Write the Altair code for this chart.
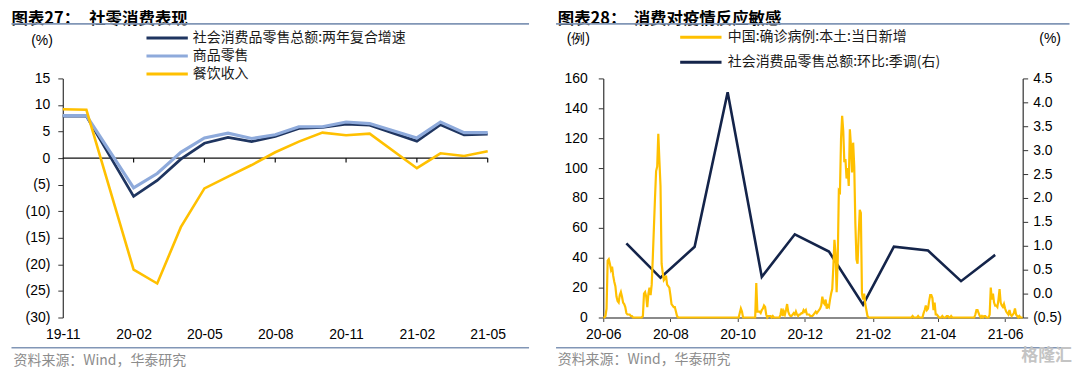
import altair as alt
import pandas as pd

# ---------------- left panel data ----------------
month_axis = ["19-11", "19-12", "20-01", "20-02", "20-03", "20-04", "20-05", "20-06",
              "20-07", "20-08", "20-09", "20-10", "20-11", "20-12", "21-01", "21-02",
              "21-03", "21-04", "21-05"]
left_ticks = ["19-11", "20-02", "20-05", "20-08", "20-11", "21-02", "21-05"]
data_months = ["19-11", "19-12", "20-02", "20-03", "20-04", "20-05", "20-06", "20-07",
               "20-08", "20-09", "20-10", "20-11", "20-12", "21-02", "21-03", "21-04", "21-05"]
retail_total = [7.9, 7.9, -7.2, -4.2, -0.2, 2.8, 3.9, 3.1, 4.1, 5.6, 5.8, 6.4, 6.2, 3.2, 6.3, 4.4, 4.5]
retail_goods = [8.0, 8.0, -5.6, -2.9, 1.1, 3.8, 4.7, 3.7, 4.4, 5.9, 5.9, 6.8, 6.5, 3.8, 6.8, 4.8, 4.8]
catering = [9.2, 9.1, -21.0, -23.6, -13.0, -5.7, -3.5, -1.3, 1.1, 3.1, 4.8, 4.3, 4.6, -1.9, 0.9, 0.4, 1.3]
left_yticks = [-30, -25, -20, -15, -10, -5, 0, 5, 10, 15]

# ---------------- right panel data ----------------
case_start = "2020-06-09"
cases_2020_06 = [0, 0, 1, 6, 38, 39, 36, 32, 34, 28, 24, 21, 14, 11, 10, 15, 17, 14, 10, 9, 7, 3]
cases_2020_07 = [2, 2, 2, 1, 1, 0, 0, 0, 0, 0, 0, 0, 0, 0,
                 1, 16, 17, 14, 7, 16, 20, 15, 22, 40, 60, 80, 98, 101, 123, 105, 88]
cases_2020_08 = [36, 30, 25, 26, 28, 22, 21, 20, 15, 9, 8, 7, 7, 4, 1, 0,
                 0, 0, 0, 0, 0, 0, 0, 0, 0, 0, 0, 0, 0, 0, 0]
cases_2020_09 = [0, 0, 0, 0, 0, 0, 0, 0, 0, 0, 0, 0, 0, 0, 0,
                 0, 0, 0, 0, 0, 0, 0, 0, 0, 0, 0, 0, 0, 0, 0]
cases_2020_10 = [0, 0, 0, 0, 0, 0, 0, 0, 0, 0, 3, 6, 4, 0, 0, 0,
                 0, 0, 0, 0, 0, 0, 0, 0, 0, 23, 4, 4, 4, 3, 5]
cases_2020_11 = [6, 8, 7, 2, 0, 1, 1, 1, 0, 1, 0, 0, 0, 0, 0,
                 0, 2, 6, 1, 4, 2, 5, 9, 4, 2, 1, 1, 2, 3, 2]
cases_2020_12 = [4, 2, 1, 2, 2, 3, 3, 5, 4, 5, 2, 2, 2, 1, 1, 1,
                 2, 3, 4, 3, 4, 5, 6, 8, 14, 10, 9, 12, 6, 8, 7]
cases_2021_01 = [12, 16, 19, 34, 52, 43, 17, 39, 85, 84, 120, 135, 125, 104, 106, 93,
                 100, 88, 126, 115, 97, 117, 101, 63, 39, 36, 55, 72, 70, 16, 12]
cases_2021_02 = [16, 9, 5, 1, 0, 0, 0, 0, 0, 0, 0, 0, 0, 0,
                 0, 0, 0, 0, 0, 0, 0, 0, 0, 0, 0, 0, 0, 0]
cases_2021_03 = [0, 0, 0, 0, 0, 0, 0, 0, 0, 0, 0, 0, 0, 0, 0, 0,
                 1, 0, 0, 0, 0, 1, 0, 0, 0, 0, 3, 5, 8, 5, 6]
cases_2021_04 = [11, 15, 15, 13, 5, 10, 2, 2, 1, 0, 0, 0, 1, 0, 0,
                 0, 1, 1, 0, 0, 1, 0, 0, 0, 0, 0, 0, 0, 0, 0]
cases_2021_05 = [0, 0, 0, 0, 0, 0, 0, 0, 0, 0, 0, 0, 2, 5, 5, 3,
                 1, 0, 1, 0, 1, 1, 0, 0, 0, 2, 20, 12, 16, 10, 8]
cases_2021_06 = [8, 7, 12, 19, 10, 8, 7, 9, 6, 4, 3, 2, 5, 2, 1, 2, 3, 6, 2, 1, 0, 1, 0, 0, 0]

sales_dates = ["2020-06-30", "2020-07-31", "2020-08-31", "2020-09-30", "2020-10-31", "2020-11-30",
               "2020-12-31", "2021-01-31", "2021-02-28", "2021-03-31", "2021-04-30", "2021-05-31"]
sales_mom = [1.05, 0.33, 0.98, 4.21, 0.35, 1.24, 0.88, -0.23, 0.98, 0.90, 0.26, 0.81]
right_ly_ticks = [0, 20, 40, 60, 80, 100, 120, 140, 160]
right_ry_ticks = [-0.5, 0.0, 0.5, 1.0, 1.5, 2.0, 2.5, 3.0, 3.5, 4.0, 4.5]
right_tick_dates = [(2020, 6, 9), (2020, 8, 9), (2020, 10, 9), (2020, 12, 9),
                    (2021, 2, 9), (2021, 4, 9), (2021, 6, 9)]

# ---------------- styles ----------------
LAT = "Liberation Sans"
CJK = "Noto Sans CJK SC"
NAVY_L = "#1f3560"
LIGHT = "#8eaadb"
GOLD = "#ffc000"
NAVY_R = "#14244a"
RULE = "#8196b6"
W1, W2, H = 426.5, 421, 240
TITLE_Y = -60

blank = alt.Data(values=[{"k": 0}])


def txt(s, x, y, size=14, font=CJK, color="#1a1a1a", weight="normal", align="left"):
    return alt.Chart(blank).mark_text(
        text=s, align=align, baseline="middle", font=font, fontSize=size,
        fontWeight=weight, color=color
    ).encode(x=alt.value(x), y=alt.value(y))


def hline(x1, x2, y, color, width):
    return alt.Chart(blank).mark_rule(color=color, strokeWidth=width).encode(
        x=alt.value(x1), x2=alt.value(x2), y=alt.value(y))


# ---------------- left panel ----------------
df_left = pd.DataFrame({"m": data_months, "total": retail_total,
                        "goods": retail_goods, "cater": catering})
df_zero = pd.DataFrame({"m": [month_axis[0], month_axis[-1]], "v": [0, 0]})
df_lt = pd.DataFrame({"m": left_ticks[1:], "v": [0] * (len(left_ticks) - 1)})

xL = alt.X("m:O", scale=alt.Scale(type="point", domain=month_axis, padding=0),
           axis=alt.Axis(values=left_ticks, labelAngle=0, domain=False, ticks=False, tickSize=0,
                         labelPadding=10, labelFont=LAT, labelFontSize=14, labelColor="#000",
                         grid=False, title=None, labelOverlap=False, labelFlush=False))


def yL(field):
    return alt.Y(f"{field}:Q", scale=alt.Scale(domain=[-30, 15], nice=False, zero=False),
                 axis=alt.Axis(values=left_yticks, grid=False, title=None, tickSize=5,
                               labelPadding=8, labelFont=LAT, labelFontSize=14, labelColor="#000",
                               domainColor="#333333", tickColor="#333333", domainWidth=1.2,
                               labelExpr="datum.value < 0 ? '(' + (-datum.value) + ')' : datum.value + ' '"))


l_zero = alt.Chart(df_zero).mark_line(color="#111111", strokeWidth=1.3).encode(x=xL, y=yL("v"))
l_ticks = alt.Chart(df_lt).mark_rule(color="#111111", strokeWidth=1.2, y2Offset=4.5).encode(
    x=xL, y=yL("v"), y2="v:Q")
l_total = alt.Chart(df_left).mark_line(color=NAVY_L, strokeWidth=2.8).encode(x=xL, y=yL("total"))
l_goods = alt.Chart(df_left).mark_line(color=LIGHT, strokeWidth=3.2).encode(x=xL, y=yL("goods"))
l_cater = alt.Chart(df_left).mark_line(color=GOLD, strokeWidth=2.6).encode(x=xL, y=yL("cater"))

left = alt.layer(
    l_zero, l_ticks, l_total, l_goods, l_cater,
    txt("图表27：", -51.5, TITLE_Y, size=16.5, weight="bold", color="#000"),
    txt("社零消费表现", 26.5, TITLE_Y, size=16.5, weight="bold", color="#000"),
    hline(-51.5, 468, -54.7, RULE, 1.6),
    txt("(%)", -20.8, -38, size=14, font=LAT, color="#000", align="center"),
    hline(84, 125.5, -40.5, NAVY_L, 3),
    txt("社会消费品零售总额:两年复合增速", 130.5, -40.5),
    hline(84, 125.5, -22.5, LIGHT, 3),
    txt("商品零售", 130.5, -22.5),
    hline(84, 125.5, -4.5, GOLD, 3),
    txt("餐饮收入", 130.5, -4.5),
    hline(-51.5, 468, 270.3, RULE, 1.6),
    txt("资料来源：Wind，华泰研究", -49.4, 284, size=14, color="#8c8c8c"),
).properties(width=W1, height=H)

# ---------------- right panel ----------------
all_cases = (cases_2020_06 + cases_2020_07 + cases_2020_08 + cases_2020_09 + cases_2020_10 +
             cases_2020_11 + cases_2020_12 + cases_2021_01 + cases_2021_02 + cases_2021_03 +
             cases_2021_04 + cases_2021_05 + cases_2021_06)
df_cases = pd.DataFrame({"d": pd.date_range(case_start, periods=len(all_cases), freq="D"),
                         "n": all_cases})
df_sales = pd.DataFrame({"d": pd.to_datetime(sales_dates), "s": sales_mom})
last_day = df_cases["d"].iloc[-1]

x_axis_r = alt.Axis(values=[alt.DateTime(year=y, month=m, date=d) for (y, m, d) in right_tick_dates],
                    format="%y-%m", labelAngle=0, grid=False, title=None, tickSize=4,
                    labelPadding=6, labelFont=LAT, labelFontSize=14, labelColor="#000",
                    domainColor="#8a8a8a", domainWidth=2, tickColor="#444444",
                    labelOverlap=False, labelFlush=False)
xR = alt.X("d:T", scale=alt.Scale(domain=[alt.DateTime(year=2020, month=6, date=9),
                                          alt.DateTime(year=last_day.year, month=last_day.month,
                                                       date=last_day.day)], nice=False),
           axis=x_axis_r)

r_cases = alt.Chart(df_cases).mark_line(color=GOLD, strokeWidth=2.2).encode(
    x=xR,
    y=alt.Y("n:Q", scale=alt.Scale(domain=[0, 160], nice=False),
            axis=alt.Axis(orient="left", values=right_ly_ticks, grid=False, title=None, tickSize=5,
                          labelPadding=11, labelFont=LAT, labelFontSize=14, labelColor="#000",
                          domainColor="#333333", tickColor="#333333", domainWidth=1.2)))
r_sales = alt.Chart(df_sales).mark_line(color=NAVY_R, strokeWidth=2.6).encode(
    x=xR,
    y=alt.Y("s:Q", scale=alt.Scale(domain=[-0.5, 4.5], nice=False, zero=False),
            axis=alt.Axis(orient="right", values=right_ry_ticks, grid=False, title=None, tickSize=5,
                          labelPadding=5, labelFont=LAT, labelFontSize=14, labelColor="#000",
                          domainColor="#333333", tickColor="#333333", domainWidth=1.2,
                          labelExpr="datum.value < 0 ? '(' + format(-datum.value, '.1f') + ')' : format(datum.value, '.1f')")))

right_deco = alt.layer(
    txt("图表28：", -45.7, TITLE_Y, size=16.5, weight="bold", color="#000"),
    txt("消费对疫情反应敏感", 30.5, TITLE_Y, size=16.5, weight="bold", color="#000"),
    hline(-47.4, 468, -54.7, RULE, 1.6),
    txt("(例)", -25, -39.7, size=14, font=LAT, color="#000", align="center"),
    txt("(%)", 448.5, -39.7, size=14, font=LAT, color="#000", align="center"),
    hline(77.2, 118.7, -41.3, GOLD, 3),
    txt("中国:确诊病例:本土:当日新增", 125, -41.3),
    hline(77.2, 118.7, -16.3, NAVY_R, 3),
    txt("社会消费品零售总额:环比:季调(右)", 125, -16.3),
    hline(-47.4, 468, 270.3, RULE, 1.6),
    txt("资料来源：Wind，华泰研究", -45.7, 283, size=14, color="#8c8c8c"),
    txt("格隆汇", 445, 279, size=17, color="#c4c4c4", weight="bold", align="center"),
)

right = alt.layer(r_sales, r_cases, right_deco).resolve_scale(y="independent").properties(
    width=W2, height=H)

chart = alt.hconcat(left, right, spacing=115.5, bounds="flush").configure_view(
    stroke=None).properties(padding={"left": 2, "top": 2, "right": 0, "bottom": 0})

chart.save("out.html", embed_options={"renderer": "svg", "actions": False})
